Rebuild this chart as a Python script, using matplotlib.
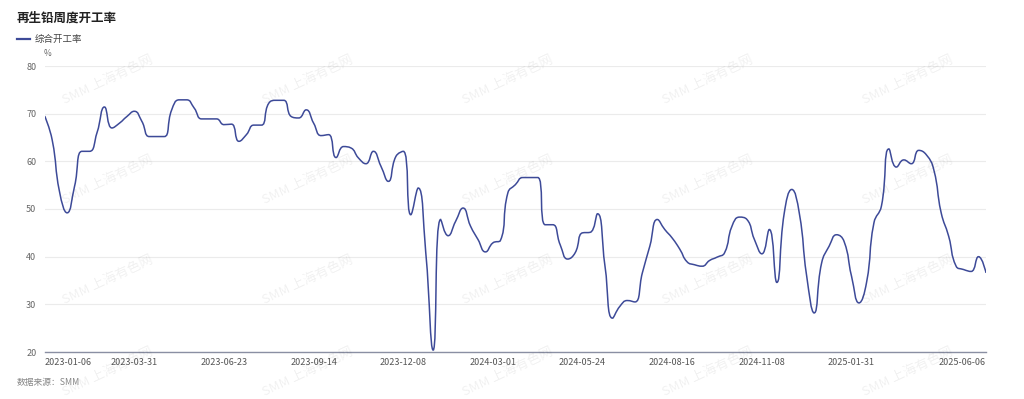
import numpy as np
import matplotlib
matplotlib.use("Agg")
import matplotlib.pyplot as plt
from matplotlib.path import Path
from matplotlib.patches import PathPatch

plt.rcParams['font.family'] = ['Noto Sans CJK SC', 'DejaVu Sans']

# ========== DATA ==========
title = "再生铅周度开工率"
series_name = "综合开工率"
source = "数据来源：SMM"

# weekly operating rate (%), 2023-01-06 .. 2025-06-06
rate = [
    69.5, 64.5, 53.5, 49.2, 54.8, 62.1, 62.1, 66.0, 71.4, 67.0,
    68.0, 69.4, 70.5, 68.4, 65.2, 65.2, 65.2, 70.8, 72.9, 72.9,
    71.2, 68.9, 68.9, 68.9, 67.7, 67.8, 64.2, 65.6, 67.6, 67.6,
    72.2, 72.8, 72.8, 69.4, 69.1, 70.8, 68.0, 65.4, 65.6, 60.8,
    63.1, 62.8, 60.7, 59.5, 62.1, 59.0, 55.8, 61.0, 62.1, 48.8,
    54.4, 41.0, 20.4, 47.8, 44.4, 47.4, 50.2, 46.4, 43.6, 41.0,
    42.9, 43.4, 53.4, 55.1, 56.6, 56.6, 56.6, 46.7, 46.7, 42.5,
    39.5, 40.8, 45.0, 45.1, 49.0, 38.0, 27.1, 29.6, 30.8, 30.5,
    36.6, 42.2, 47.8, 45.7, 43.9, 41.6, 38.9, 38.3, 38.0, 39.2,
    39.9, 40.8, 46.4, 48.3, 47.8, 43.6, 40.6, 45.7, 34.6, 49.2,
    54.1, 49.2, 35.9, 28.2, 38.7, 42.2, 44.6, 43.2, 35.9, 30.3,
    34.5, 47.1, 50.6, 62.6, 58.8, 60.3, 59.5, 62.3, 61.4, 58.3,
    49.2, 44.3, 38.0, 37.3, 36.9, 40.0, 36.6,
]
tick_idx = [0, 12, 24, 36, 48, 60, 72, 84, 96, 108, 126]
tick_labels = ["2023-01-06", "2023-03-31", "2023-06-23", "2023-09-14", "2023-12-08",
               "2024-03-01", "2024-05-24", "2024-08-16", "2024-11-08", "2025-01-31",
               "2025-06-06"]
y_ticks = [20, 30, 40, 50, 60, 70, 80]

LINE_COLOR = "#3d4a98"
W, H = 1024, 399
AX_L, AX_R, AX_T, AX_B = 44.7, 986.0, 66.0, 352.0


def smooth_path(xs, ys, sx, sy, smooth=0.5):
    # echarts-like smoothing, control points computed in pixel space
    px = np.asarray(xs, float) * sx
    py = np.asarray(ys, float) * sy
    n = len(px)
    cp_prev = [(px[i], py[i]) for i in range(n)]
    cp_next = [(px[i], py[i]) for i in range(n)]
    for i in range(1, n - 1):
        x, y = px[i], py[i]
        x0, y0 = px[i - 1], py[i - 1]
        x1, y1 = px[i + 1], py[i + 1]
        vx, vy = x1 - x0, y1 - y0
        l0 = np.hypot(x - x0, y - y0)
        l1 = np.hypot(x1 - x, y1 - y)
        r = l1 / (l0 + l1)
        c1x = x - vx * smooth * (1 - r)
        c1y = y - vy * smooth * (1 - r)
        c1x = min(max(c1x, min(x, x0)), max(x, x0))
        c1y = min(max(c1y, min(y, y0)), max(y, y0))
        vx, vy = c1x - x, c1y - y
        n0x = x - vx * l1 / l0
        n0y = y - vy * l1 / l0
        n0x = min(max(n0x, min(x, x1)), max(x, x1))
        n0y = min(max(n0y, min(y, y1)), max(y, y1))
        vx, vy = x - n0x, y - n0y
        c1x = x + vx * l0 / l1
        c1y = y + vy * l0 / l1
        cp_prev[i] = (c1x, c1y)
        cp_next[i] = (n0x, n0y)
    verts = [(px[0], py[0])]
    codes = [Path.MOVETO]
    for i in range(n - 1):
        verts += [cp_next[i], cp_prev[i + 1], (px[i + 1], py[i + 1])]
        codes += [Path.CURVE4] * 3
    verts = [(vx_ / sx, vy_ / sy) for vx_, vy_ in verts]
    return Path(verts, codes)


fig = plt.figure(figsize=(W / 100, H / 100), dpi=100)
ax = fig.add_axes([AX_L / W, 1 - AX_B / H, (AX_R - AX_L) / W, (AX_B - AX_T) / H])

x = np.arange(len(rate))
sx = (AX_R - AX_L) / (len(rate) - 1)
sy = (AX_B - AX_T) / (y_ticks[-1] - y_ticks[0])
patch = PathPatch(smooth_path(x, rate, sx, sy), facecolor="none",
                  edgecolor=LINE_COLOR, linewidth=1.1, zorder=3)
ax.add_patch(patch)

ax.set_xlim(0, len(rate) - 1)
ax.set_ylim(y_ticks[0], y_ticks[-1])
ax.set_yticks(y_ticks)
ax.set_yticklabels([str(v) for v in y_ticks])
ax.grid(axis="y", color="#ebebeb", linewidth=0.8)
ax.set_axisbelow(True)
for s in ["top", "right", "left"]:
    ax.spines[s].set_visible(False)
ax.spines["bottom"].set_color("#8a8fa3")
ax.spines["bottom"].set_linewidth(1.0)
ax.tick_params(axis="y", length=0, pad=6, labelsize=6.5, labelcolor="#666666")
ax.tick_params(axis="x", length=0, pad=4, labelsize=6.5, labelcolor="#555555")
ax.set_xticks(tick_idx)
ax.set_xticklabels(tick_labels)
xl = ax.get_xticklabels()
xl[0].set_ha("left")
xl[-1].set_ha("right")

# title, legend, axis name, source
fig.text(17 / W, 1 - 18 / H, title, fontsize=9, fontweight="bold",
         color="#222222", ha="left", va="center")
fig.add_artist(plt.Line2D([17 / W, 30 / W], [1 - 39 / H] * 2,
                          color=LINE_COLOR, linewidth=1.6))
fig.text(35 / W, 1 - 39 / H, series_name, fontsize=6.8, color="#444444",
         ha="left", va="center")
fig.text(48 / W, 1 - 53 / H, "%", fontsize=6, color="#666666",
         ha="center", va="center")
fig.text(17 / W, 1 - 382 / H, source, fontsize=6.3, color="#888888",
         ha="left", va="center", style="italic")

# watermark
for cx in [108, 308, 508, 708, 908]:
    for cy in [80, 180, 280, 372]:
        fig.text(cx / W, 1 - cy / H, "SMM 上海有色网", fontsize=9.5,
                 color="#000000", alpha=0.06, rotation=25,
                 ha="center", va="center", zorder=0)

fig.savefig("out.png", dpi=100)
